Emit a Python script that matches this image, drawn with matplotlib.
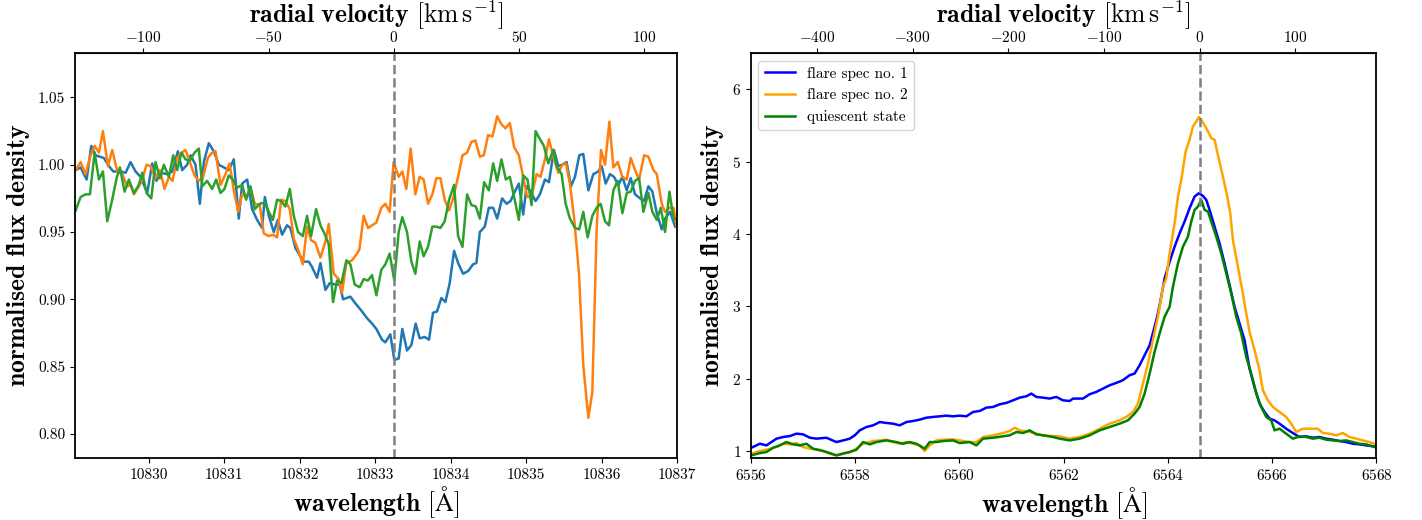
import matplotlib
matplotlib.use("Agg")
import matplotlib.pyplot as plt

plt.rcParams["font.family"] = "serif"
plt.rcParams["font.serif"] = ["cmr10", "DejaVu Serif"]
plt.rcParams["mathtext.fontset"] = "cm"
plt.rcParams["axes.formatter.use_mathtext"] = True
plt.rcParams["axes.unicode_minus"] = True

# ---------------- He I 10830 region (left panel) ----------------
he_line = 10833.245
he_kms_per_aa = 30.15

he_wl_1 = [10829.029, 10829.095, 10829.175, 10829.236, 10829.294, 10829.404, 10829.470, 10829.528,
           10829.625, 10829.691, 10829.757, 10829.823, 10829.890, 10829.978, 10830.044, 10830.101,
           10830.154, 10830.243, 10830.309, 10830.384, 10830.441, 10830.507, 10830.552, 10830.618,
           10830.675, 10830.728, 10830.794, 10830.860, 10830.927, 10830.993, 10831.059, 10831.125,
           10831.191, 10831.236, 10831.302, 10831.368, 10831.434, 10831.500, 10831.536, 10831.589,
           10831.655, 10831.708, 10831.765, 10831.831, 10831.875, 10831.942, 10832.008, 10832.052,
           10832.118, 10832.162, 10832.228, 10832.273, 10832.339, 10832.396, 10832.471, 10832.529,
           10832.573, 10832.670, 10832.736, 10832.824, 10832.890, 10832.957, 10833.014, 10833.089,
           10833.133, 10833.199, 10833.252, 10833.310, 10833.358, 10833.420, 10833.478, 10833.535,
           10833.588, 10833.655, 10833.712, 10833.765, 10833.818, 10833.876, 10833.929, 10833.986,
           10834.044, 10834.097, 10834.163, 10834.230, 10834.296, 10834.340, 10834.385, 10834.451,
           10834.504, 10834.562, 10834.615, 10834.681, 10834.739, 10834.792, 10834.849, 10834.902,
           10834.960, 10835.004, 10835.048, 10835.124, 10835.181, 10835.248, 10835.301, 10835.367,
           10835.425, 10835.478, 10835.535, 10835.593, 10835.646, 10835.703, 10835.756, 10835.823,
           10835.889, 10835.955, 10836.000, 10836.053, 10836.110, 10836.163, 10836.221, 10836.274,
           10836.332, 10836.385, 10836.442, 10836.509, 10836.562, 10836.619, 10836.672, 10836.730,
           10836.796, 10836.840, 10836.907, 10836.973]
he_flux_1 = [0.996, 0.998, 0.989, 1.014, 1.007, 1.005, 0.999, 0.995,
             0.995, 0.994, 1.002, 0.995, 0.991, 0.979, 1.001, 0.988,
             0.994, 0.993, 0.995, 1.010, 0.996, 1.000, 1.007, 1.000,
             0.971, 1.002, 1.016, 1.010, 1.000, 0.998, 0.996, 1.004,
             0.960, 0.986, 0.989, 0.967, 0.959, 0.953, 0.976, 0.962,
             0.950, 0.959, 0.948, 0.955, 0.953, 0.938, 0.932, 0.928,
             0.928, 0.924, 0.916, 0.927, 0.907, 0.912, 0.911, 0.911,
             0.900, 0.902, 0.897, 0.891, 0.886, 0.882, 0.878, 0.870,
             0.868, 0.874, 0.855, 0.856, 0.878, 0.862, 0.866, 0.882,
             0.871, 0.872, 0.870, 0.890, 0.891, 0.901, 0.898, 0.912,
             0.936, 0.927, 0.919, 0.921, 0.926, 0.927, 0.950, 0.954,
             0.968, 0.968, 0.960, 0.975, 0.971, 0.973, 0.980, 0.986,
             0.963, 0.984, 0.981, 0.973, 0.978, 0.989, 0.987, 1.011,
             0.999, 1.000, 1.002, 0.984, 0.991, 1.007, 1.008, 0.981,
             0.993, 0.995, 0.999, 0.986, 0.993, 0.991, 0.985, 0.991,
             0.981, 0.990, 0.978, 0.975, 0.973, 0.984, 0.980, 0.964,
             0.952, 0.960, 0.965, 0.954]

he_wl_2 = [10829.029, 10829.095, 10829.161, 10829.228, 10829.281, 10829.338, 10829.391, 10829.457,
           10829.514, 10829.581, 10829.647, 10829.713, 10829.757, 10829.801, 10829.867, 10829.912,
           10829.969, 10830.022, 10830.088, 10830.146, 10830.207, 10830.265, 10830.313, 10830.375,
           10830.432, 10830.485, 10830.543, 10830.604, 10830.662, 10830.719, 10830.781, 10830.838,
           10830.882, 10830.949, 10831.015, 10831.068, 10831.125, 10831.183, 10831.236, 10831.293,
           10831.346, 10831.403, 10831.469, 10831.522, 10831.589, 10831.646, 10831.699, 10831.752,
           10831.809, 10831.867, 10831.920, 10831.977, 10832.039, 10832.096, 10832.149, 10832.206,
           10832.273, 10832.339, 10832.383, 10832.449, 10832.516, 10832.559, 10832.617, 10832.692,
           10832.758, 10832.789, 10832.846, 10832.904, 10832.957, 10833.014, 10833.080, 10833.133,
           10833.190, 10833.243, 10833.310, 10833.358, 10833.411, 10833.469, 10833.531, 10833.588,
           10833.641, 10833.699, 10833.756, 10833.809, 10833.863, 10833.920, 10833.978, 10834.031,
           10834.097, 10834.155, 10834.217, 10834.274, 10834.327, 10834.385, 10834.438, 10834.495,
           10834.553, 10834.615, 10834.672, 10834.725, 10834.783, 10834.840, 10834.902, 10834.960,
           10835.013, 10835.071, 10835.137, 10835.190, 10835.248, 10835.301, 10835.358, 10835.425,
           10835.478, 10835.526, 10835.579, 10835.637, 10835.699, 10835.756, 10835.823, 10835.876,
           10835.933, 10835.991, 10836.044, 10836.102, 10836.155, 10836.212, 10836.274, 10836.332,
           10836.385, 10836.442, 10836.495, 10836.562, 10836.619, 10836.686, 10836.730, 10836.796,
           10836.840, 10836.898, 10836.951, 10836.995]
he_flux_2 = [0.996, 1.002, 0.993, 1.007, 1.014, 1.009, 1.025, 0.999,
             1.011, 0.995, 0.993, 0.984, 0.985, 0.978, 0.984, 0.989,
             1.000, 0.999, 0.990, 0.996, 0.982, 0.991, 0.988, 1.005,
             1.009, 1.011, 1.002, 0.992, 0.988, 0.991, 1.005, 1.009,
             1.010, 0.985, 0.993, 1.001, 0.981, 0.965, 0.978, 0.976,
             0.983, 0.971, 0.970, 0.949, 0.947, 0.948, 0.946, 0.974,
             0.973, 0.967, 0.945, 0.937, 0.926, 0.954, 0.944, 0.942,
             0.931, 0.943, 0.956, 0.919, 0.915, 0.905, 0.927, 0.929,
             0.934, 0.937, 0.962, 0.953, 0.955, 0.957, 0.968, 0.971,
             0.965, 1.002, 0.991, 0.995, 0.982, 1.012, 0.978, 0.991,
             0.989, 0.971, 0.978, 0.990, 0.990, 0.974, 0.966, 0.975,
             0.991, 1.007, 1.009, 1.017, 1.018, 1.006, 1.007, 1.022,
             1.021, 1.036, 1.030, 1.027, 1.031, 1.013, 1.007, 0.991,
             0.976, 0.977, 0.993, 0.991, 1.004, 1.019, 1.006, 0.994,
             1.000, 1.001, 0.986, 0.959, 0.919, 0.851, 0.812, 0.831,
             0.952, 1.011, 1.000, 1.032, 0.998, 1.002, 0.991, 0.989,
             1.005, 0.996, 0.989, 1.007, 1.006, 0.996, 0.993, 0.971,
             0.965, 0.968, 0.968, 0.954]

he_wl_q = [10829.029, 10829.095, 10829.161, 10829.219, 10829.281, 10829.338, 10829.391, 10829.448,
           10829.514, 10829.572, 10829.616, 10829.678, 10829.735, 10829.801, 10829.867, 10829.912,
           10829.969, 10830.031, 10830.088, 10830.146, 10830.198, 10830.265, 10830.322, 10830.375,
           10830.432, 10830.485, 10830.543, 10830.604, 10830.662, 10830.706, 10830.772, 10830.838,
           10830.891, 10830.949, 10831.002, 10831.059, 10831.112, 10831.169, 10831.236, 10831.288,
           10831.346, 10831.403, 10831.469, 10831.536, 10831.589, 10831.642, 10831.699, 10831.752,
           10831.809, 10831.867, 10831.920, 10831.977, 10832.039, 10832.096, 10832.149, 10832.215,
           10832.273, 10832.326, 10832.383, 10832.440, 10832.493, 10832.551, 10832.617, 10832.670,
           10832.727, 10832.793, 10832.846, 10832.904, 10832.957, 10833.014, 10833.080, 10833.133,
           10833.190, 10833.252, 10833.310, 10833.358, 10833.420, 10833.478, 10833.531, 10833.588,
           10833.641, 10833.699, 10833.756, 10833.809, 10833.863, 10833.920, 10833.978, 10834.044,
           10834.097, 10834.155, 10834.217, 10834.274, 10834.332, 10834.385, 10834.442, 10834.504,
           10834.562, 10834.615, 10834.672, 10834.730, 10834.783, 10834.840, 10834.902, 10834.960,
           10835.017, 10835.071, 10835.124, 10835.181, 10835.234, 10835.292, 10835.358, 10835.402,
           10835.469, 10835.522, 10835.579, 10835.646, 10835.703, 10835.756, 10835.814, 10835.876,
           10835.933, 10835.986, 10836.044, 10836.097, 10836.155, 10836.212, 10836.274, 10836.332,
           10836.385, 10836.442, 10836.495, 10836.553, 10836.619, 10836.672, 10836.730, 10836.783,
           10836.840, 10836.898, 10836.951, 10836.995]
he_flux_q = [0.966, 0.976, 0.978, 0.978, 1.009, 0.989, 0.995, 0.958,
             0.974, 0.990, 0.998, 0.980, 0.989, 0.979, 0.985, 0.994,
             0.979, 0.975, 1.002, 0.990, 1.000, 0.991, 1.007, 0.996,
             1.009, 1.004, 1.003, 1.009, 1.012, 0.984, 0.988, 0.982,
             0.989, 0.979, 0.982, 0.992, 0.989, 0.983, 0.985, 0.974,
             0.984, 0.967, 0.971, 0.972, 0.965, 0.959, 0.974, 0.973,
             0.969, 0.982, 0.962, 0.950, 0.947, 0.962, 0.947, 0.967,
             0.955, 0.949, 0.941, 0.898, 0.914, 0.912, 0.929, 0.926,
             0.911, 0.909, 0.915, 0.914, 0.918, 0.903, 0.922, 0.926,
             0.934, 0.914, 0.950, 0.961, 0.950, 0.928, 0.919, 0.943,
             0.932, 0.939, 0.954, 0.954, 0.953, 0.958, 0.974, 0.985,
             0.947, 0.939, 0.978, 0.970, 0.969, 0.960, 0.987, 0.981,
             1.001, 0.988, 1.004, 0.989, 0.991, 0.976, 0.959, 0.992,
             0.989, 0.970, 1.025, 1.019, 1.014, 1.001, 1.011, 0.999,
             0.993, 0.971, 0.960, 0.953, 0.952, 0.965, 0.946, 0.962,
             0.968, 0.971, 0.958, 0.955, 0.981, 0.988, 0.964, 0.979,
             0.980, 0.988, 0.990, 0.965, 0.979, 0.965, 0.959, 0.968,
             0.950, 0.980, 0.960, 0.959]

# ---------------- H alpha region (right panel) ----------------
ha_line = 6564.61
ha_kms_per_aa = 54.46

ha_wl_1 = [6556.013, 6556.173, 6556.300, 6556.492, 6556.620, 6556.748, 6556.875, 6557.003,
           6557.131, 6557.259, 6557.450, 6557.642, 6557.770, 6557.898, 6557.994, 6558.089,
           6558.217, 6558.345, 6558.473, 6558.601, 6558.728, 6558.856, 6558.984, 6559.112,
           6559.240, 6559.367, 6559.495, 6559.623, 6559.751, 6559.879, 6560.006, 6560.134,
           6560.262, 6560.390, 6560.518, 6560.645, 6560.773, 6560.901, 6561.029, 6561.157,
           6561.284, 6561.380, 6561.476, 6561.604, 6561.732, 6561.859, 6561.987, 6562.115,
           6562.179, 6562.371, 6562.498, 6562.626, 6562.754, 6562.882, 6563.010, 6563.137,
           6563.265, 6563.361, 6563.457, 6563.553, 6563.649, 6563.744, 6563.808, 6563.872,
           6563.936, 6564.032, 6564.128, 6564.224, 6564.319, 6564.415, 6564.511, 6564.594,
           6564.671, 6564.735, 6564.799, 6564.895, 6564.990, 6565.086, 6565.182, 6565.278,
           6565.374, 6565.470, 6565.565, 6565.661, 6565.757, 6565.853, 6565.949, 6566.045,
           6566.141, 6566.268, 6566.396, 6566.524, 6566.652, 6566.780, 6566.907, 6567.035,
           6567.163, 6567.291, 6567.419, 6567.546, 6567.674, 6567.802, 6567.962]
ha_flux_1 = [1.044, 1.099, 1.076, 1.169, 1.192, 1.205, 1.238, 1.229,
             1.182, 1.169, 1.182, 1.122, 1.145, 1.169, 1.215, 1.284,
             1.330, 1.353, 1.399, 1.386, 1.376, 1.353, 1.399, 1.413,
             1.432, 1.459, 1.469, 1.478, 1.487, 1.478, 1.487, 1.478,
             1.538, 1.552, 1.598, 1.607, 1.644, 1.663, 1.699, 1.736,
             1.755, 1.792, 1.746, 1.736, 1.723, 1.746, 1.699, 1.690,
             1.723, 1.723, 1.783, 1.815, 1.861, 1.907, 1.940, 1.977,
             2.046, 2.069, 2.184, 2.323, 2.461, 2.715, 2.900, 3.131,
             3.385, 3.615, 3.823, 4.008, 4.170, 4.354, 4.516, 4.562,
             4.525, 4.470, 4.331, 4.100, 3.869, 3.592, 3.292, 2.992,
             2.761, 2.530, 2.137, 1.883, 1.653, 1.538, 1.446, 1.422,
             1.376, 1.307, 1.247, 1.192, 1.201, 1.182, 1.192, 1.169,
             1.155, 1.136, 1.122, 1.099, 1.090, 1.076, 1.062]

ha_wl_2 = [6556.013, 6556.173, 6556.300, 6556.492, 6556.620, 6556.748, 6556.875, 6557.003,
           6557.131, 6557.323, 6557.514, 6557.642, 6557.770, 6557.898, 6558.026, 6558.153,
           6558.345, 6558.473, 6558.601, 6558.728, 6558.856, 6558.984, 6559.112, 6559.240,
           6559.335, 6559.431, 6559.559, 6559.687, 6559.879, 6560.006, 6560.198, 6560.326,
           6560.454, 6560.645, 6560.837, 6560.965, 6561.061, 6561.157, 6561.348, 6561.476,
           6561.604, 6561.796, 6561.923, 6562.115, 6562.307, 6562.498, 6562.690, 6562.882,
           6563.073, 6563.201, 6563.329, 6563.425, 6563.521, 6563.617, 6563.712, 6563.808,
           6563.904, 6563.968, 6564.032, 6564.128, 6564.192, 6564.256, 6564.339, 6564.415,
           6564.479, 6564.543, 6564.594, 6564.639, 6564.735, 6564.831, 6564.895, 6564.958,
           6565.054, 6565.131, 6565.195, 6565.246, 6565.342, 6565.425, 6565.502, 6565.565,
           6565.661, 6565.757, 6565.821, 6565.917, 6566.013, 6566.141, 6566.268, 6566.364,
           6566.460, 6566.588, 6566.780, 6566.875, 6566.971, 6567.099, 6567.227, 6567.355,
           6567.482, 6567.610, 6567.738, 6567.866, 6567.994]
ha_flux_2 = [0.961, 0.998, 1.016, 1.053, 1.099, 1.090, 1.108, 1.053,
             1.030, 1.016, 0.961, 0.938, 0.970, 0.984, 1.030, 1.099,
             1.136, 1.145, 1.155, 1.122, 1.099, 1.122, 1.099, 1.076,
             0.998, 1.076, 1.145, 1.155, 1.159, 1.145, 1.122, 1.122,
             1.192, 1.215, 1.247, 1.275, 1.321, 1.284, 1.261, 1.238,
             1.215, 1.205, 1.201, 1.169, 1.192, 1.238, 1.307, 1.376,
             1.422, 1.469, 1.538, 1.653, 1.930, 2.207, 2.530, 2.854,
             3.269, 3.385, 3.731, 4.147, 4.516, 4.747, 5.139, 5.301,
             5.485, 5.555, 5.615, 5.578, 5.462, 5.324, 5.301, 5.093,
             4.793, 4.539, 4.285, 3.916, 3.546, 3.223, 2.900, 2.646,
             2.392, 2.115, 1.838, 1.699, 1.607, 1.538, 1.469, 1.376,
             1.261, 1.307, 1.307, 1.307, 1.247, 1.238, 1.215, 1.247,
             1.192, 1.169, 1.145, 1.122, 1.090]

ha_wl_q = [6556.013, 6556.173, 6556.300, 6556.428, 6556.556, 6556.684, 6556.812, 6556.939,
           6557.067, 6557.195, 6557.387, 6557.514, 6557.642, 6557.770, 6557.898, 6558.026,
           6558.153, 6558.281, 6558.409, 6558.601, 6558.792, 6558.920, 6559.048, 6559.176,
           6559.335, 6559.431, 6559.559, 6559.687, 6559.879, 6560.006, 6560.198, 6560.326,
           6560.454, 6560.645, 6560.837, 6560.965, 6561.093, 6561.220, 6561.348, 6561.476,
           6561.604, 6561.796, 6561.923, 6562.115, 6562.307, 6562.498, 6562.690, 6562.882,
           6563.073, 6563.233, 6563.361, 6563.457, 6563.553, 6563.649, 6563.744, 6563.840,
           6563.936, 6564.032, 6564.096, 6564.192, 6564.288, 6564.383, 6564.447, 6564.511,
           6564.575, 6564.639, 6564.703, 6564.767, 6564.831, 6564.927, 6565.022, 6565.118,
           6565.214, 6565.310, 6565.406, 6565.502, 6565.597, 6565.693, 6565.789, 6565.885,
           6565.981, 6566.045, 6566.141, 6566.268, 6566.396, 6566.524, 6566.652, 6566.780,
           6566.907, 6567.035, 6567.163, 6567.291, 6567.419, 6567.546, 6567.674, 6567.802,
           6567.962]
ha_flux_q = [0.938, 0.970, 0.984, 1.044, 1.076, 1.122, 1.090, 1.076,
             1.099, 1.030, 0.998, 0.970, 0.938, 0.961, 0.984, 1.016,
             1.122, 1.090, 1.122, 1.145, 1.122, 1.099, 1.122, 1.099,
             1.030, 1.122, 1.122, 1.136, 1.145, 1.108, 1.122, 1.076,
             1.169, 1.182, 1.201, 1.215, 1.261, 1.247, 1.284, 1.229,
             1.215, 1.192, 1.169, 1.145, 1.169, 1.215, 1.284, 1.330,
             1.376, 1.422, 1.515, 1.607, 1.792, 2.069, 2.369, 2.623,
             2.854, 2.992, 3.269, 3.592, 3.823, 3.961, 4.170, 4.331,
             4.377, 4.470, 4.331, 4.308, 4.170, 3.961, 3.731, 3.454,
             3.177, 2.854, 2.623, 2.300, 2.069, 1.792, 1.607, 1.469,
             1.422, 1.284, 1.307, 1.238, 1.169, 1.201, 1.192, 1.169,
             1.182, 1.155, 1.145, 1.136, 1.145, 1.122, 1.099, 1.090,
             1.053]

legend_labels = ["flare spec no. 1", "flare spec no. 2", "quiescent state"]

label_wl = r"$\mathbf{wavelength}\ [\mathrm{\AA}]$"
label_rv = r"$\mathbf{radial\ velocity}\ [\mathrm{km\,s^{-1}}]$"
label_flux = r"$\mathbf{normalised\ flux\ density}$"
label_size = 18.5

fig = plt.figure(figsize=(14.22, 5.2), dpi=100)
ax1 = fig.add_axes([0.0527, 0.119, 0.4235, 0.779])
ax2 = fig.add_axes([0.528, 0.119, 0.440, 0.779])

# left panel
ax1.plot(he_wl_1, he_flux_1, color="C0", lw=1.8)
ax1.plot(he_wl_2, he_flux_2, color="C1", lw=1.8)
ax1.plot(he_wl_q, he_flux_q, color="C2", lw=1.8)
ax1.axvline(he_line, color="gray", ls="--", lw=1.8)
ax1.set_xlim(10829.02, 10837.0)
ax1.set_ylim(0.782, 1.083)
ax1.set_yticks([0.80, 0.85, 0.90, 0.95, 1.00, 1.05])
ax1.set_xticks(range(10830, 10838))
ax1.xaxis.set_major_formatter(matplotlib.ticker.FormatStrFormatter("%d"))
ax1.yaxis.set_major_formatter(matplotlib.ticker.FormatStrFormatter("%.2f"))
ax1.set_xlabel(label_wl, fontsize=label_size, labelpad=2)
ax1.set_ylabel(label_flux, fontsize=label_size)
top1 = ax1.secondary_xaxis(
    "top",
    functions=(lambda w: (w - he_line) * he_kms_per_aa,
               lambda v: v / he_kms_per_aa + he_line))
top1.set_xticks([-100, -50, 0, 50, 100])
top1.set_xlabel(label_rv, fontsize=label_size, labelpad=5)

# right panel
ax2.plot(ha_wl_1, ha_flux_1, color="blue", lw=1.8, label=legend_labels[0])
ax2.plot(ha_wl_2, ha_flux_2, color="orange", lw=1.8, label=legend_labels[1])
ax2.plot(ha_wl_q, ha_flux_q, color="green", lw=1.8, label=legend_labels[2])
ax2.axvline(ha_line, color="gray", ls="--", lw=1.8)
ax2.set_xlim(6556, 6568)
ax2.set_ylim(0.9, 6.5)
ax2.set_xticks(range(6556, 6569, 2))
ax2.set_yticks([1, 2, 3, 4, 5, 6])
ax2.set_xlabel(label_wl, fontsize=label_size, labelpad=2)
ax2.set_ylabel(label_flux, fontsize=label_size)
ax2.legend(loc="upper left", fontsize=11)
top2 = ax2.secondary_xaxis(
    "top",
    functions=(lambda w: (w - ha_line) * ha_kms_per_aa,
               lambda v: v / ha_kms_per_aa + ha_line))
top2.set_xticks([-400, -300, -200, -100, 0, 100])
top2.set_xlabel(label_rv, fontsize=label_size, labelpad=5)

for ax in (ax1, ax2):
    ax.tick_params(labelsize=11)
for ax in (top1, top2):
    ax.tick_params(labelsize=11, pad=2)
for ax in (ax1, ax2):
    for s in ax.spines.values():
        s.set_linewidth(1.3)

fig.savefig("out.png", dpi=100)
